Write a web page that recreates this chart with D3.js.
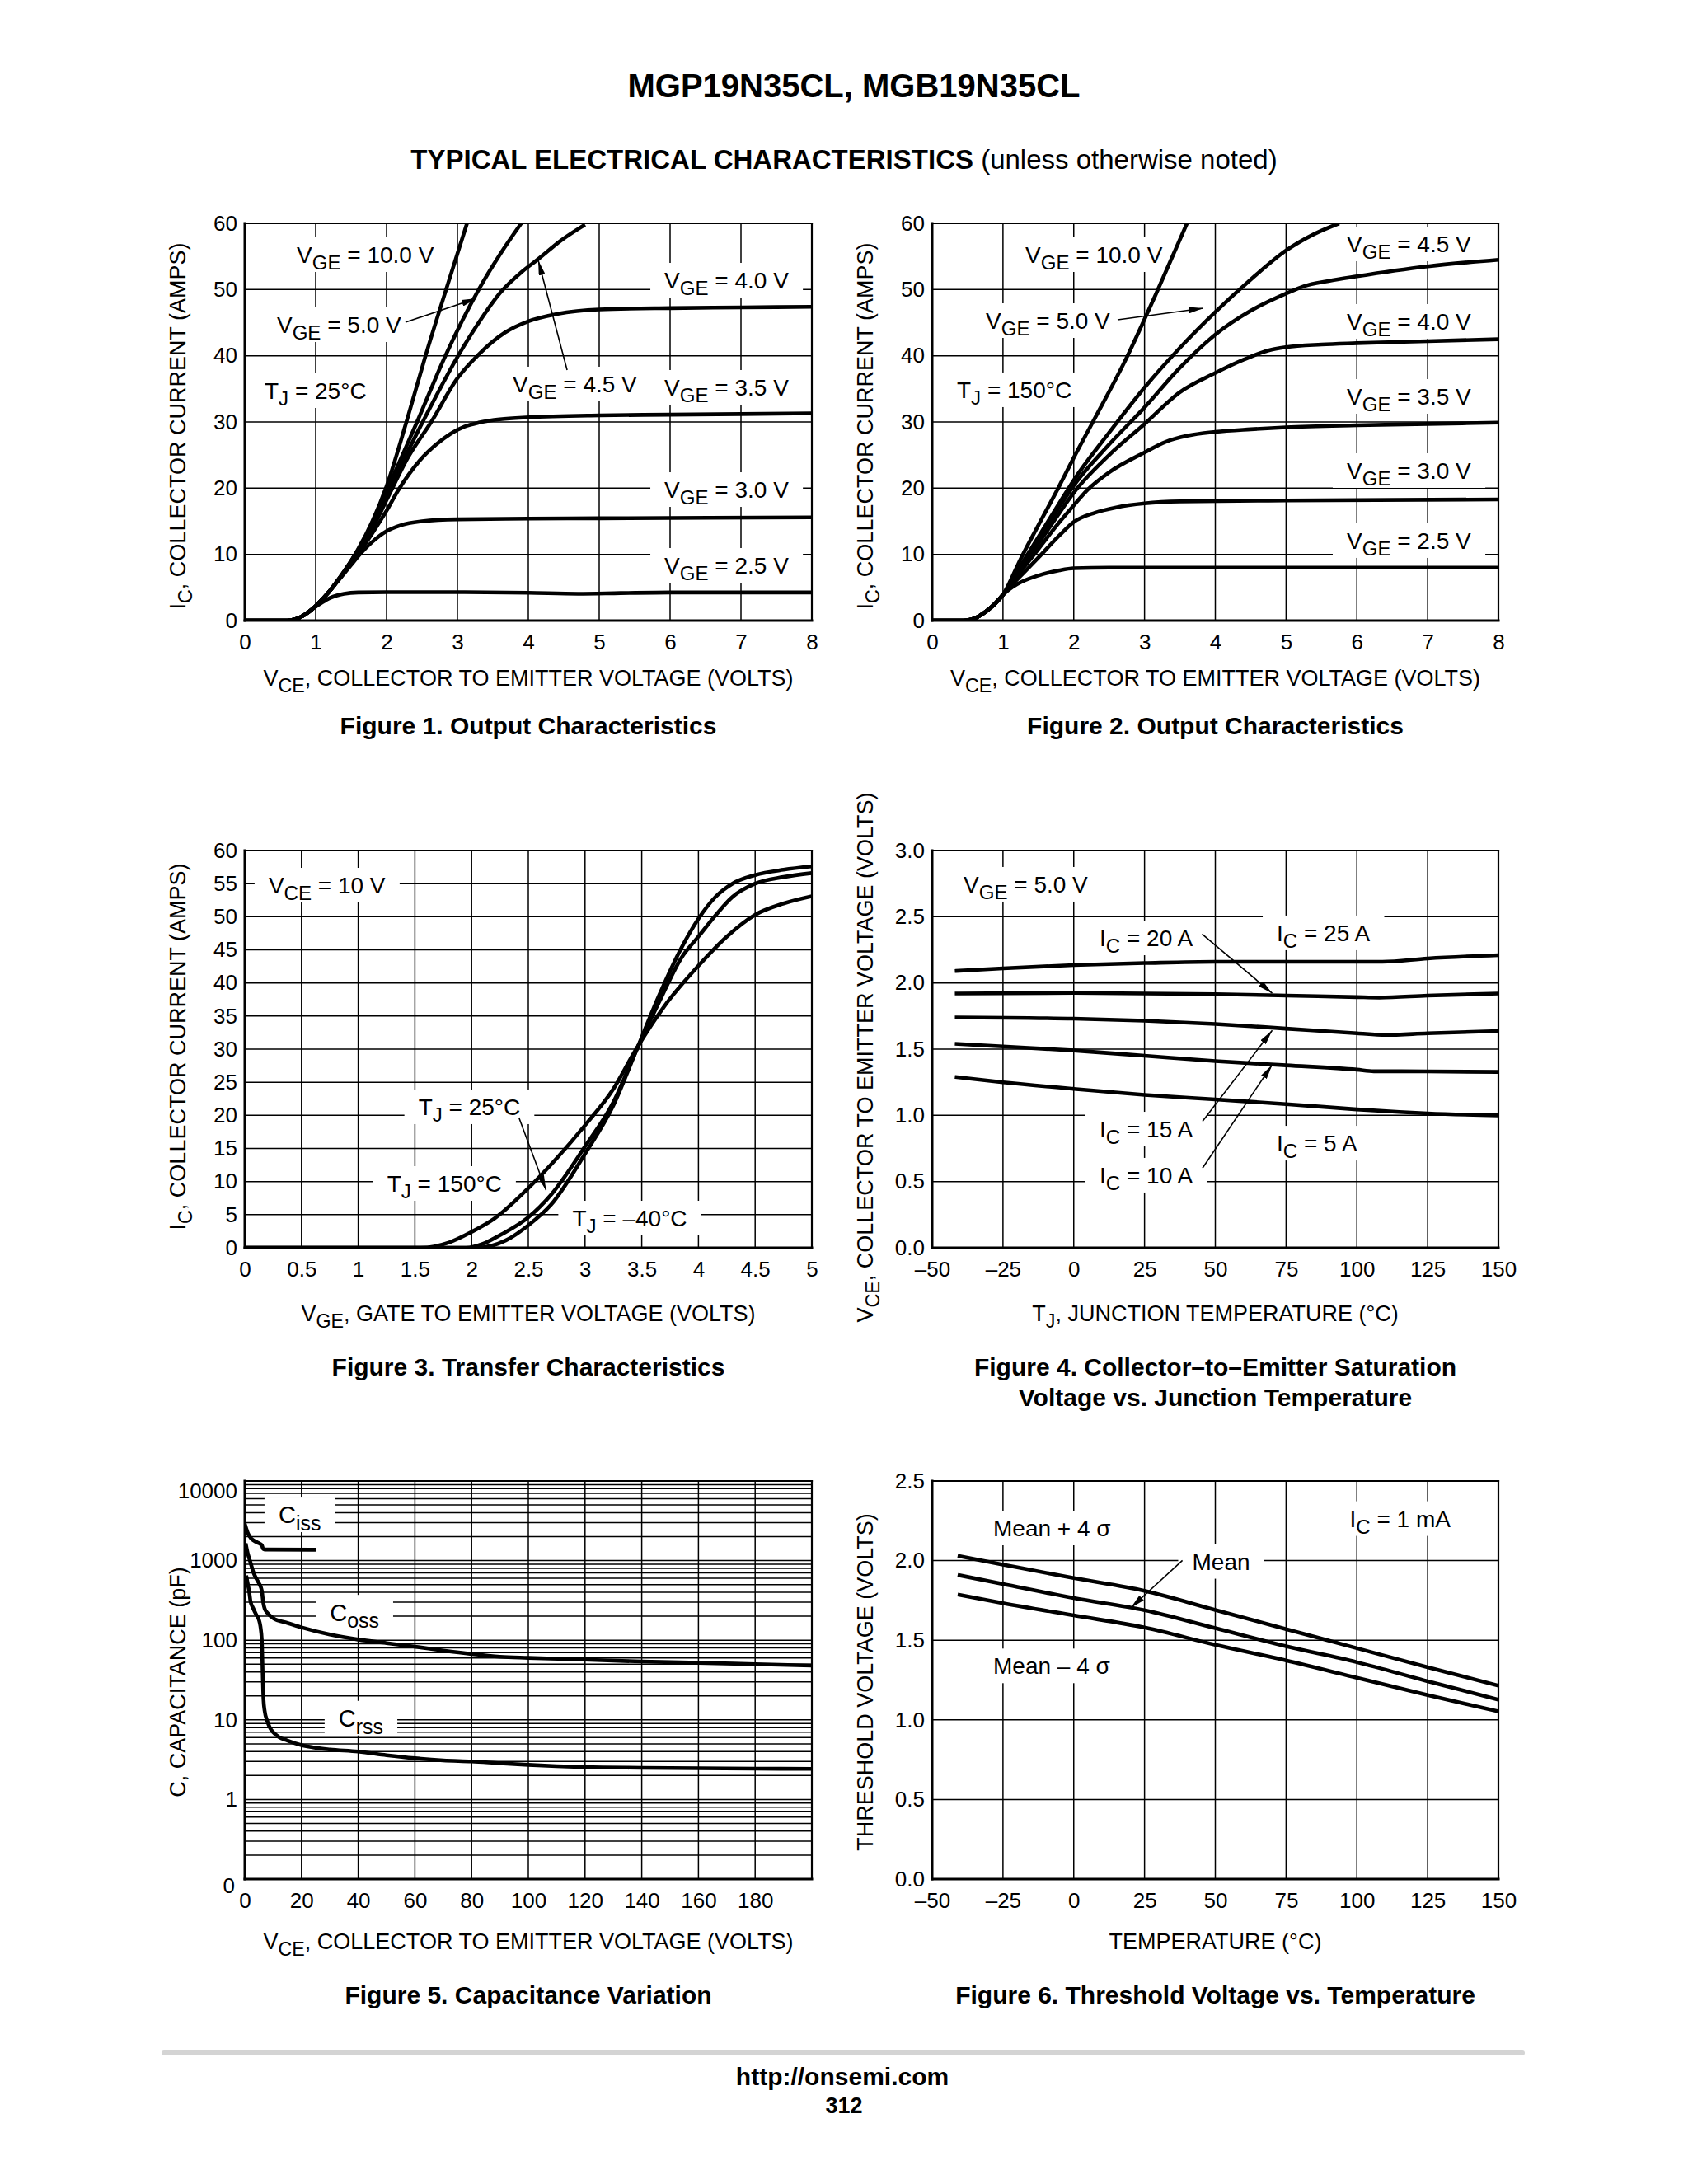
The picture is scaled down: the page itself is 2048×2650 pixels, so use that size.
<!DOCTYPE html>
<html>
<head>
<meta charset="utf-8">
<title>MGP19N35CL, MGB19N35CL</title>
<script src="https://cdn.jsdelivr.net/npm/d3@7/dist/d3.min.js"></script>
<style>
html,body{margin:0;padding:0;background:#fff;}
svg{display:block;}
text{font-family:"Liberation Sans",Arial,Helvetica,sans-serif;fill:#000;white-space:pre;}
</style>
</head>
<body>
<svg id="page" width="2048" height="2650" viewBox="0 0 2048 2650"></svg>
<script>
// ===================== DATA =====================
// Figure 1 – Output characteristics, TJ = 25 °C  (VCE [V], IC [A])
const fig1XTicks = [0,1,2,3,4,5,6,7,8];
const fig1YTicks = [0,10,20,30,40,50,60];
const fig1Vge10 = [[0,0],[0.6,0],[0.7,0.15],[0.8,0.6],[0.9,1.3],[1.0,2.2],[1.1,3.3],[1.2,4.5],[1.3,5.9],[1.4,7.4],[1.5,9.0],[1.6,10.8],[1.8,15.0],[2.0,20.3],[2.28,30],[2.55,40],[2.84,50],[3.135,60]];
const fig1Vge50 = [[0,0],[0.6,0],[0.7,0.15],[0.8,0.6],[0.9,1.3],[1.0,2.2],[1.1,3.3],[1.2,4.5],[1.3,5.9],[1.4,7.4],[1.5,9.0],[1.6,10.7],[1.8,14.7],[2.0,19.5],[2.2,24.4],[2.43,30],[2.83,40],[3.3,50],[3.6,55.3],[3.9,60]];
const fig1Vge45 = [[0,0],[0.6,0],[0.7,0.15],[0.8,0.6],[0.9,1.3],[1.0,2.2],[1.1,3.3],[1.2,4.5],[1.3,5.9],[1.4,7.4],[1.5,9.0],[1.6,10.6],[1.8,14.4],[2.0,19.0],[2.2,23.4],[2.51,30],[3.01,40],[3.3,45.0],[3.61,49.6],[3.9,52.6],[4.14,54.6],[4.46,57.4],[4.8,59.8]];
const fig1Vge40 = [[0,0],[0.6,0],[0.7,0.15],[0.8,0.6],[0.9,1.3],[1.0,2.2],[1.1,3.3],[1.2,4.5],[1.3,5.9],[1.4,7.3],[1.5,8.9],[1.6,10.4],[1.8,13.9],[2.0,18.2],[2.3,24.6],[2.63,30],[3.0,36.6],[3.3,40.2],[3.67,43.5],[4.0,45.2],[4.4,46.3],[5.0,47.0],[6,47.2],[7,47.3],[8,47.4]];
const fig1Vge35 = [[0,0],[0.6,0],[0.7,0.15],[0.8,0.6],[0.9,1.3],[1.0,2.2],[1.1,3.3],[1.2,4.5],[1.3,5.8],[1.4,7.2],[1.5,8.7],[1.6,10.1],[1.8,13.2],[2.0,16.6],[2.16,19.6],[2.47,24.2],[2.7,26.6],[2.9,28.2],[3.1,29.3],[3.3,29.9],[3.6,30.4],[4.0,30.7],[5.0,31.0],[6,31.1],[8,31.3]];
const fig1Vge30 = [[0,0],[0.6,0],[0.7,0.15],[0.8,0.6],[0.9,1.3],[1.0,2.2],[1.1,3.3],[1.2,4.5],[1.3,5.8],[1.4,7.1],[1.5,8.4],[1.6,9.7],[1.8,11.9],[2.0,13.5],[2.2,14.4],[2.5,15.0],[3,15.3],[4,15.4],[5,15.45],[8,15.6]];
const fig1Vge25 = [[0,0],[0.6,0],[0.7,0.15],[0.8,0.6],[0.9,1.3],[1.0,2.1],[1.1,2.8],[1.2,3.4],[1.3,3.8],[1.4,4.05],[1.6,4.25],[2,4.3],[3,4.3],[4,4.2],[4.7,4.05],[5.3,4.15],[6,4.25],[8,4.25]];

// Figure 2 – Output characteristics, TJ = 150 °C
const fig2XTicks = [0,1,2,3,4,5,6,7,8];
const fig2YTicks = [0,10,20,30,40,50,60];
const fig2Vge10 = [[0,0],[0.45,0],[0.55,0.15],[0.65,0.6],[0.8,1.7],[0.9,2.7],[1.0,3.9],[1.1,5.9],[1.2,8.2],[1.35,11.4],[1.5,14.4],[1.78,20],[2.0,24.6],[2.27,30],[2.76,40],[3.16,49.3],[3.6,60]];
const fig2Vge50 = [[0,0],[0.45,0],[0.55,0.15],[0.65,0.6],[0.8,1.7],[0.9,2.7],[1.0,3.9],[1.1,5.6],[1.2,7.4],[1.5,12.6],[1.8,17.8],[2.0,21.2],[2.5,28.4],[3.0,35.2],[3.5,41.2],[4.0,46.6],[4.5,51.5],[5.0,55.9],[5.4,58.4],[5.75,60]];
const fig2Vge45 = [[0,0],[0.45,0],[0.55,0.15],[0.65,0.6],[0.8,1.7],[0.9,2.7],[1.0,3.9],[1.1,5.5],[1.2,7.2],[1.5,12.2],[1.8,17.2],[2.0,20.4],[2.5,26.6],[3.0,32.2],[3.5,38.2],[4.0,43.2],[4.5,46.8],[5.0,49.4],[5.25,50.5],[5.6,51.3],[6,52.0],[7,53.5],[8,54.5]];
const fig2Vge40 = [[0,0],[0.45,0],[0.55,0.15],[0.65,0.6],[0.8,1.7],[0.9,2.7],[1.0,3.9],[1.1,5.4],[1.2,7.0],[1.5,11.6],[1.8,16.3],[2.0,19.3],[2.5,25.0],[3.0,29.7],[3.5,34.5],[4.0,37.4],[4.4,39.4],[4.75,40.8],[5.0,41.3],[5.5,41.7],[6,41.9],[7,42.2],[8,42.5]];
const fig2Vge35 = [[0,0],[0.45,0],[0.55,0.15],[0.65,0.6],[0.8,1.7],[0.9,2.7],[1.0,3.9],[1.1,5.3],[1.2,6.7],[1.5,10.8],[1.8,14.9],[2.0,17.4],[2.2,19.8],[2.5,22.4],[3.0,25.4],[3.3,27.0],[3.6,27.9],[4.0,28.5],[4.5,28.9],[5.0,29.2],[6,29.5],[7,29.7],[8,29.9]];
const fig2Vge30 = [[0,0],[0.45,0],[0.55,0.15],[0.65,0.6],[0.8,1.7],[0.9,2.7],[1.0,3.9],[1.1,5.1],[1.2,6.2],[1.5,9.5],[1.8,12.9],[2.0,14.9],[2.3,16.3],[2.6,17.1],[3.0,17.7],[3.5,18.0],[5,18.15],[8,18.3]];
const fig2Vge25 = [[0,0],[0.45,0],[0.55,0.15],[0.65,0.6],[0.8,1.7],[0.9,2.7],[1.0,3.9],[1.1,4.8],[1.2,5.5],[1.5,6.8],[1.8,7.6],[2.0,7.9],[2.5,8.0],[8,8.0]];

// Figure 3 – Transfer characteristics, VCE = 10 V  (VGE [V], IC [A])
const fig3XTicks = [0,0.5,1,1.5,2,2.5,3,3.5,4,4.5,5];
const fig3XLabels = ["0","0.5","1","1.5","2","2.5","3","3.5","4","4.5","5"];
const fig3YTicks = [0,5,10,15,20,25,30,35,40,45,50,55,60];
const fig3Tj150 = [[0,0],[1.55,0],[1.8,0.8],[2.0,2.4],[2.2,4.4],[2.5,9.0],[2.75,13.5],[3.0,18.5],[3.25,24.0],[3.44,29.7],[3.7,36.5],[4.0,42.6],[4.25,47.0],[4.5,50.3],[4.75,52.0],[5.0,53.1]];
const fig3Tj25 = [[0,0],[1.95,0],[2.1,0.6],[2.25,1.9],[2.5,4.6],[2.7,8.0],[3.0,15.3],[3.25,22.0],[3.45,29.7],[3.65,37.0],[3.85,43.8],[4.0,47.0],[4.15,50.2],[4.3,53.0],[4.5,55.0],[4.75,56.0],[5.0,56.6]];
const fig3TjM40 = [[0,0],[2.05,0],[2.3,1.1],[2.5,3.4],[2.7,6.5],[3.0,14.2],[3.25,21.5],[3.45,29.7],[3.65,38.0],[3.85,45.3],[4.0,49.7],[4.15,53.0],[4.3,55.0],[4.5,56.3],[4.75,57.1],[5.0,57.6]];

// Figure 4 – VCE(sat) vs TJ, VGE = 5.0 V  (TJ [°C], VCE [V])
const fig4XTicks = [-50,-25,0,25,50,75,100,125,150];
const fig4XLabels = ["\u201350","\u201325","0","25","50","75","100","125","150"];
const fig4YTicks = [0,0.5,1,1.5,2,2.5,3];
const fig4YLabels = ["0.0","0.5","1.0","1.5","2.0","2.5","3.0"];
const fig4Ic25 = [[-42,2.09],[-25,2.11],[0,2.135],[25,2.15],[50,2.16],[75,2.16],[100,2.16],[109,2.16],[125,2.185],[150,2.21]];
const fig4Ic20 = [[-42,1.92],[0,1.925],[25,1.92],[50,1.915],[75,1.905],[100,1.893],[108,1.89],[125,1.905],[150,1.92]];
const fig4Ic15 = [[-42,1.74],[0,1.73],[25,1.715],[50,1.69],[75,1.655],[100,1.62],[110,1.607],[125,1.62],[150,1.637]];
const fig4Ic10 = [[-42,1.54],[-25,1.52],[0,1.49],[25,1.45],[50,1.41],[75,1.378],[100,1.345],[106,1.333],[125,1.332],[150,1.328]];
const fig4Ic5  = [[-42,1.29],[-25,1.25],[0,1.20],[25,1.155],[50,1.12],[75,1.085],[100,1.045],[115,1.025],[125,1.015],[150,1.0]];

// Figure 5 – Capacitance variation  (VCE [V], C [pF], log scale)
const fig5XTicks = [0,20,40,60,80,100,120,140,160,180];
const fig5XGrid = [0,20,40,60,80,100,120,140,160,180,200];
const fig5YTicks = [0.1,1,10,100,1000,10000];
const fig5YLabels = ["0","1","10","100","1000","10000"];
const fig5Ciss = [[0,2900],[0.5,2550],[1,2250],[2,1950],[3,1800],[4,1720],[5,1650],[6,1570],[6.5,1400],[7,1380],[25,1370]];
const fig5Coss = [[0.3,1650],[1,1250],[2,950],[3,720],[4,600],[5,520],[6,420],[6.5,300],[7,250],[8,220],[10,190],[15,165],[20,145],[30,118],[40,102],[50,92],[60,83],[70,74],[80,67],[90,62],[100,60],[120,57],[140,54],[160,52],[180,50],[200,48]];
const fig5Crss = [[0.5,650],[1,520],[1.5,420],[2,310],[3,250],[4,210],[5,180],[5.5,150],[6,100],[6.3,40],[6.6,18],[7,13],[8,9.5],[9,7.8],[10,7.0],[12,6.1],[15,5.5],[20,4.8],[25,4.45],[30,4.25],[40,4.0],[50,3.6],[60,3.3],[70,3.1],[80,3.0],[90,2.85],[100,2.72],[110,2.62],[120,2.55],[140,2.5],[160,2.47],[180,2.44],[200,2.42]];

// Figure 6 – Threshold voltage vs temperature, IC = 1 mA  (T [°C], VGE(th) [V])
const fig6XTicks = [-50,-25,0,25,50,75,100,125,150];
const fig6XLabels = ["\u201350","\u201325","0","25","50","75","100","125","150"];
const fig6YTicks = [0,0.5,1,1.5,2,2.5];
const fig6YLabels = ["0.0","0.5","1.0","1.5","2.0","2.5"];
const fig6Plus4  = [[-41,2.03],[-25,1.975],[0,1.89],[25,1.81],[50,1.69],[75,1.57],[100,1.45],[125,1.33],[150,1.215]];
const fig6Mean   = [[-41,1.91],[-25,1.853],[0,1.765],[25,1.689],[50,1.576],[75,1.462],[100,1.362],[125,1.242],[150,1.127]];
const fig6Minus4 = [[-41,1.787],[-25,1.733],[0,1.656],[25,1.58],[50,1.471],[75,1.373],[100,1.264],[125,1.155],[150,1.053]];

// ===================== LAYOUT =====================
const FONT = '"Liberation Sans", Arial, Helvetica, sans-serif';
const LEFT = [297, 985], RIGHT = [1131, 1818];
const ROW1 = [271, 753], ROW2 = [1032, 1514], ROW3 = [1797, 2280];
const TICK_FS = 26, TITLE_FS = 27, NOTE_FS = 28, CAP_FS = 30;
const SUB_RATIO = 0.86, SUB_SHIFT = 0.3;
const CURVE_W = 4.6;

const svg = d3.select("#page");
const defs = svg.append("defs");
defs.append("marker").attr("id","ah").attr("viewBox","0 0 18 8").attr("refX",18).attr("refY",4)
  .attr("markerWidth",18).attr("markerHeight",8).attr("markerUnits","userSpaceOnUse").attr("orient","auto")
  .append("path").attr("d","M0,0 L18,4 L0,8 Z").attr("fill","#000");

svg.append("rect").attr("width",2048).attr("height",2650).attr("fill","#fff");

// rich text with subscripts: parts = ["V",{s:"GE"}," = 10.0 V"]
function richText(parent, x, y, parts, size, opt = {}) {
  const t = parent.append("text").attr("x", x).attr("y", y).attr("font-size", size)
    .attr("text-anchor", opt.anchor || "start");
  if (opt.weight) t.attr("font-weight", opt.weight);
  if (opt.rotate) t.attr("transform", `rotate(-90,${x},${y})`);
  const sub = size * SUB_RATIO, shift = size * SUB_SHIFT;
  let down = false;
  parts.forEach(p => {
    if (typeof p === "string") {
      const ts = t.append("tspan").text(p);
      if (down) { ts.attr("dy", -shift); down = false; }
    } else {
      t.append("tspan").text(p.s).attr("font-size", sub).attr("dy", shift);
      down = true;
    }
  });
  return t;
}

let clipN = 0;
function makePanel(xr, yr, xDomain, yDomain, log) {
  const x = d3.scaleLinear().domain(xDomain).range(xr);
  const y = (log ? d3.scaleLog() : d3.scaleLinear()).domain(yDomain).range([yr[1], yr[0]]);
  const id = "clip" + (clipN++);
  defs.append("clipPath").attr("id", id).append("rect")
    .attr("x", xr[0]).attr("y", yr[0]).attr("width", xr[1] - xr[0]).attr("height", yr[1] - yr[0]);
  const g = svg.append("g");
  const grid = g.append("g").attr("stroke", "#000").attr("stroke-width", 1.5);
  const bg = g.append("g");
  const curves = g.append("g").attr("clip-path", `url(#${id})`);
  const frame = g.append("g").attr("stroke", "#000").attr("stroke-linecap", "square");
  const labels = g.append("g");
  return { x, y, xr, yr, g, grid, bg, curves, frame, labels };
}

function drawGrid(p, xs, ys) {
  p.grid.selectAll("line.gv").data(xs).join("line").attr("class", "gv")
    .attr("x1", d => p.x(d)).attr("x2", d => p.x(d)).attr("y1", p.yr[0]).attr("y2", p.yr[1]);
  p.grid.selectAll("line.gh").data(ys).join("line").attr("class", "gh")
    .attr("y1", d => p.y(d)).attr("y2", d => p.y(d)).attr("x1", p.xr[0]).attr("x2", p.xr[1]);
}

function drawFrame(p) {
  const [x0, x1] = p.xr, [y0, y1] = p.yr;
  p.frame.append("line").attr("x1", x0).attr("x2", x1).attr("y1", y0).attr("y2", y0).attr("stroke-width", 2.2);
  p.frame.append("line").attr("x1", x1).attr("x2", x1).attr("y1", y0).attr("y2", y1).attr("stroke-width", 2.2);
  p.frame.append("line").attr("x1", x0).attr("x2", x0).attr("y1", y0).attr("y2", y1).attr("stroke-width", 3);
  p.frame.append("line").attr("x1", x0).attr("x2", x1).attr("y1", y1).attr("y2", y1).attr("stroke-width", 3);
}

function axes(p, xv, xl, yv, yl) {
  const ax = d3.axisBottom(p.x).tickValues(xv).tickFormat((d, i) => xl[i]).tickSize(0).tickPadding(17);
  const ag = p.g.append("g").attr("transform", `translate(0,${p.yr[1]})`).call(ax);
  ag.select(".domain").remove();
  ag.attr("font-size", TICK_FS).attr("font-family", FONT);
  ag.selectAll("text").attr("fill", "#000");
  const ay = d3.axisLeft(p.y).tickValues(yv).tickFormat((d, i) => yl[i]).tickSize(0).tickPadding(9);
  const yg = p.g.append("g").attr("transform", `translate(${p.xr[0]},0)`).call(ay);
  yg.select(".domain").remove();
  yg.attr("font-size", TICK_FS).attr("font-family", FONT);
  yg.selectAll("text").attr("fill", "#000");
  return { ag, yg };
}

function curves(p, list) {
  const line = d3.line().x(d => p.x(d[0])).y(d => p.y(d[1])).curve(d3.curveMonotoneX);
  list.forEach(arr => p.curves.append("path").datum(arr).attr("d", line)
    .attr("fill", "none").attr("stroke", "#000").attr("stroke-width", CURVE_W)
    .attr("stroke-linejoin", "round").attr("stroke-linecap", "butt"));
}

function notes(p, list, size) {
  const fs = size || NOTE_FS;
  list.forEach(n => {
    const cx = p.x(n.at[0]), cy = p.y(n.at[1]);
    const t = richText(p.labels, cx, cy + fs * 0.358, n.parts, fs);
    const b = t.node().getBBox();
    p.bg.append("rect").attr("x", b.x - 17).attr("y", cy - 21).attr("width", b.width + 34).attr("height", 42).attr("fill", "#fff");
    if (n.from) {
      p.labels.append("line").attr("x1", p.x(n.from[0])).attr("y1", p.y(n.from[1]))
        .attr("x2", p.x(n.to[0])).attr("y2", p.y(n.to[1]))
        .attr("stroke", "#000").attr("stroke-width", 1.6).attr("marker-end", "url(#ah)");
    }
  });
}

function titles(p, xParts, xBase, yParts, yBaseX, yCenter, capLines, capBase) {
  const cx = (p.xr[0] + p.xr[1]) / 2;
  richText(p.labels, cx, xBase, xParts, TITLE_FS, { anchor: "middle" });
  richText(p.labels, yBaseX, yCenter, yParts, TITLE_FS, { anchor: "middle", rotate: true });
  capLines.forEach((c, i) => richText(p.labels, cx, capBase[i], [c], CAP_FS, { anchor: "middle", weight: "bold" }));
}

// ===================== HEADER / FOOTER =====================
svg.append("text").attr("x", 1036).attr("y", 118).attr("font-size", 40).attr("font-weight", "bold")
  .attr("text-anchor", "middle").text("MGP19N35CL, MGB19N35CL");
const sub = svg.append("text").attr("x", 1024).attr("y", 205).attr("font-size", 33).attr("text-anchor", "middle");
sub.append("tspan").attr("font-weight", "bold").text("TYPICAL ELECTRICAL CHARACTERISTICS");
sub.append("tspan").text(" (unless otherwise noted)");

svg.append("line").attr("x1", 199).attr("x2", 1847).attr("y1", 2491).attr("y2", 2491)
  .attr("stroke", "#d4d4d4").attr("stroke-width", 6).attr("stroke-linecap", "round");
svg.append("text").attr("x", 1022).attr("y", 2530).attr("font-size", 30).attr("font-weight", "bold")
  .attr("text-anchor", "middle").text("http://onsemi.com");
svg.append("text").attr("x", 1024).attr("y", 2564).attr("font-size", 27).attr("font-weight", "bold")
  .attr("text-anchor", "middle").text("312");

const VGE = v => ["V", { s: "GE" }, " = " + v + " V"];
const TJ = v => ["T", { s: "J" }, " = " + v + "\u00B0C"];
const IC = v => ["I", { s: "C" }, " = " + v];
const VCE_TITLE = ["V", { s: "CE" }, ", COLLECTOR TO EMITTER VOLTAGE (VOLTS)"];
const IC_TITLE = ["I", { s: "C" }, ", COLLECTOR CURRENT (AMPS)"];

// ===================== FIGURE 1 =====================
{
  const p = makePanel(LEFT, ROW1, [0, 8], [0, 60]);
  drawGrid(p, fig1XTicks, fig1YTicks);
  axes(p, fig1XTicks, fig1XTicks.map(String), fig1YTicks, fig1YTicks.map(String));
  notes(p, [
    { at: [0.733, 55.27], parts: VGE("10.0") },
    { at: [0.453, 44.69], parts: VGE("5.0"), from: [2.267, 45.06], to: [3.267, 48.67] },
    { at: [3.779, 35.73], parts: VGE("4.5"), from: [4.547, 37.84], to: [4.14, 54.4] },
    { at: [5.919, 51.41], parts: VGE("4.0") },
    { at: [5.919, 35.23], parts: VGE("3.5") },
    { at: [5.919, 19.79], parts: VGE("3.0") },
    { at: [5.919, 8.34], parts: VGE("2.5") },
    { at: [0.279, 34.73], parts: TJ("25") }
  ]);
  curves(p, [fig1Vge25, fig1Vge30, fig1Vge35, fig1Vge40, fig1Vge45, fig1Vge50, fig1Vge10]);
  drawFrame(p);
  titles(p, VCE_TITLE, 832, IC_TITLE, 225, 517, ["Figure 1. Output Characteristics"], [891]);
}

// ===================== FIGURE 2 =====================
{
  const p = makePanel(RIGHT, ROW1, [0, 8], [0, 60]);
  drawGrid(p, fig2XTicks, fig2YTicks);
  axes(p, fig2XTicks, fig2XTicks.map(String), fig2YTicks, fig2YTicks.map(String));
  notes(p, [
    { at: [1.316, 55.27], parts: VGE("10.0") },
    { at: [0.757, 45.31], parts: VGE("5.0"), from: [2.62, 45.44], to: [3.831, 47.18] },
    { at: [0.349, 34.86], parts: TJ("150") },
    { at: [5.857, 56.89], parts: VGE("4.5") },
    { at: [5.857, 45.19], parts: VGE("4.0") },
    { at: [5.857, 33.86], parts: VGE("3.5") },
    { at: [5.857, 22.66], parts: VGE("3.0") },
    { at: [5.857, 12.08], parts: VGE("2.5") }
  ]);
  curves(p, [fig2Vge25, fig2Vge30, fig2Vge35, fig2Vge40, fig2Vge45, fig2Vge50, fig2Vge10]);
  drawFrame(p);
  titles(p, VCE_TITLE, 832, IC_TITLE, 1059, 517, ["Figure 2. Output Characteristics"], [891]);
}

// ===================== FIGURE 3 =====================
{
  const p = makePanel(LEFT, ROW2, [0, 5], [0, 60]);
  drawGrid(p, fig3XTicks, fig3YTicks);
  axes(p, fig3XTicks, fig3XLabels, fig3YTicks, fig3YTicks.map(String));
  notes(p, [
    { at: [0.21, 54.77], parts: ["V", { s: "CE" }, " = 10 V"] },
    { at: [1.531, 21.29], parts: TJ("25"), from: [2.417, 19.67], to: [2.656, 8.71] },
    { at: [1.255, 9.71], parts: TJ("150") },
    { at: [2.888, 4.48], parts: TJ("\u201340") }
  ]);
  curves(p, [fig3Tj150, fig3Tj25, fig3TjM40]);
  drawFrame(p);
  titles(p, ["V", { s: "GE" }, ", GATE TO EMITTER VOLTAGE (VOLTS)"], 1603, IC_TITLE, 225, 1270,
    ["Figure 3. Transfer Characteristics"], [1669]);
}

// ===================== FIGURE 4 =====================
{
  const p = makePanel(RIGHT, ROW2, [-50, 150], [0, 3]);
  drawGrid(p, fig4XTicks, fig4YTicks);
  axes(p, fig4XTicks, fig4XLabels, fig4YTicks, fig4YLabels);
  notes(p, [
    { at: [-38.94, 2.745], parts: VGE("5.0") },
    { at: [9.1, 2.34], parts: IC("20 A"), from: [45.34, 2.369], to: [70.09, 1.922] },
    { at: [71.7, 2.378], parts: IC("25 A") },
    { at: [9.1, 0.896], parts: IC("15 A"), from: [45.5, 0.955], to: [70.09, 1.641] },
    { at: [9.1, 0.548], parts: IC("10 A"), from: [45.5, 0.602], to: [70.09, 1.382] },
    { at: [71.7, 0.79], parts: IC("5 A") }
  ]);
  curves(p, [fig4Ic25, fig4Ic20, fig4Ic15, fig4Ic10, fig4Ic5]);
  drawFrame(p);
  titles(p, ["T", { s: "J" }, ", JUNCTION TEMPERATURE (\u00B0C)"], 1603, VCE_TITLE, 1059, 1283,
    ["Figure 4. Collector\u2013to\u2013Emitter Saturation", "Voltage vs. Junction Temperature"], [1669, 1706]);
}

// ===================== FIGURE 5 =====================
{
  const p = makePanel(LEFT, ROW3, [0, 200], [0.1, 10000], true);
  drawGrid(p, fig5XGrid, p.y.ticks());
  const { yg } = axes(p, fig5XTicks, fig5XTicks.map(String), fig5YTicks, fig5YLabels);
  yg.selectAll("text").filter(function () { return d3.select(this).text() === "10000"; }).attr("y", 12);
  yg.selectAll("text").filter(function () { return d3.select(this).text() === "0"; }).attr("y", 8).attr("x", -12);
  notes(p, [
    { at: [11.9, 3758], parts: ["C", { s: "iss" }] },
    { at: [30.0, 225], parts: ["C", { s: "oss" }] },
    { at: [33.1, 10.5], parts: ["C", { s: "rss" }] }
  ], 29);
  curves(p, [fig5Ciss, fig5Coss, fig5Crss]);
  drawFrame(p);
  titles(p, VCE_TITLE, 2365, ["C, CAPACITANCE (pF)"], 225, 2041, ["Figure 5. Capacitance Variation"], [2431]);
}

// ===================== FIGURE 6 =====================
{
  const p = makePanel(RIGHT, ROW3, [-50, 150], [0, 2.5]);
  drawGrid(p, fig6XTicks, fig6YTicks);
  axes(p, fig6XTicks, fig6XLabels, fig6YTicks, fig6YLabels);
  notes(p, [
    { at: [-28.46, 2.205], parts: ["Mean + 4 \u03C3"] },
    { at: [41.85, 1.995], parts: ["Mean"], from: [38.38, 2.001], to: [20.1, 1.703] },
    { at: [-28.46, 1.339], parts: ["Mean \u2013 4 \u03C3"] },
    { at: [97.45, 2.264], parts: IC("1 mA") }
  ]);
  curves(p, [fig6Plus4, fig6Mean, fig6Minus4]);
  drawFrame(p);
  titles(p, ["TEMPERATURE (\u00B0C)"], 2365, ["THRESHOLD VOLTAGE (VOLTS)"], 1059, 2041,
    ["Figure 6. Threshold Voltage vs. Temperature"], [2431]);
}
</script>
</body>
</html>
